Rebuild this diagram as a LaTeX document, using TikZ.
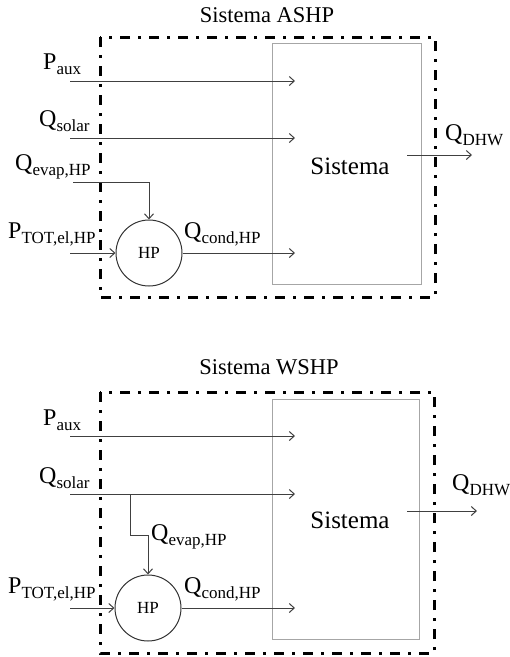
\documentclass[tikz,border=0pt]{standalone}
\usepackage{fontspec}
\setmainfont{Liberation Serif}
\usetikzlibrary{arrows.meta}
\newcommand{\qlab}[2]{{\fontsize{24}{24}\selectfont #1}\raisebox{-5.5pt}{\fontsize{17}{17}\selectfont #2}}
\begin{document}
\begin{tikzpicture}[x=1pt,y=-1pt,
  frame/.style={line width=3pt, dash pattern=on 10pt off 8pt on 3pt off 8pt},
  sysbox/.style={draw=black!35, line width=1.3pt, inner sep=0, anchor=north west},
  flow/.style={draw=black!75, line width=1pt, -{Straight Barb[length=5pt,width=9pt]}},
  link/.style={draw=black!75, line width=1pt},
  lbl/.style={anchor=base west, inner sep=0},
  title/.style={inner sep=0, font=\fontsize{22.5}{22.5}\selectfont},
  systxt/.style={inner sep=0, font=\fontsize{25}{25}\selectfont},
  hp/.style={circle, draw=black!80, line width=1pt, minimum size=66pt, inner sep=0, font=\fontsize{17}{17}\selectfont}]
\useasboundingbox (0,0) rectangle (510,657);

% ---------- ASHP ----------
\node[title] (tA) at (267,15) {Sistema ASHP};
\draw[frame] (100,37) rectangle (435,297);
\node[sysbox, minimum width=149pt, minimum height=241pt] (bA) at (272,43) {};
\node[systxt] (sA) at (350,166) {Sistema};
\node[hp] (hpA) at (149,253) {HP};

\coordinate (pauxA0) at (70,81);  \coordinate (pauxA1) at (295,81);
\coordinate (qsolA0) at (70,138); \coordinate (qsolA1) at (295,138);
\coordinate (qevA0) at (73,182);
\coordinate (ptotA0) at (70,253);
\coordinate (qcoA1) at (295,253);
\coordinate (dhwA0) at (407,155); \coordinate (dhwA1) at (472,155);

\node[lbl] (lpauxA) at (43,69) {\qlab{P}{aux}};
\node[lbl] (lqsolA) at (39,126) {\qlab{Q}{solar}};
\node[lbl] (lqevA) at (15,170) {\qlab{Q}{evap,HP}};
\node[lbl] (lptotA) at (8,238) {\qlab{P}{TOT,el,HP}};
\node[lbl] (lqcoA) at (184,238) {\qlab{Q}{cond,HP}};
\node[lbl] (ldhwA) at (445,140) {\qlab{Q}{DHW}};

\draw[flow] (pauxA0) -- (pauxA1);
\draw[flow] (qsolA0) -- (qsolA1);
\draw[flow] (qevA0) -| (hpA.north);
\draw[flow] (ptotA0) -- (hpA.west);
\draw[flow] (hpA.east) -- (qcoA1);
\draw[flow] (dhwA0) -- (dhwA1);

% ---------- WSHP ----------
\node[title] (tW) at (269,367) {Sistema WSHP};
\draw[frame] (100,392) rectangle (434,653);
\node[sysbox, minimum width=147pt, minimum height=240pt] (bW) at (272,399) {};
\node[systxt] (sW) at (350,520) {Sistema};
\node[hp] (hpW) at (148,608) {HP};

\coordinate (pauxW0) at (70,436);  \coordinate (pauxW1) at (295,436);
\coordinate (qsolW0) at (70,494);  \coordinate (qsolW1) at (295,494);
\coordinate (brW) at (130,494);
\coordinate (stW) at (148,535);
\coordinate (ptotW0) at (70,608);
\coordinate (qcoW1) at (295,608);
\coordinate (dhwW0) at (407,511); \coordinate (dhwW1) at (477,511);

\node[lbl] (lpauxW) at (43,425) {\qlab{P}{aux}};
\node[lbl] (lqsolW) at (39,483) {\qlab{Q}{solar}};
\node[lbl] (lqevW) at (151,540) {\qlab{Q}{evap,HP}};
\node[lbl] (lptotW) at (8,593) {\qlab{P}{TOT,el,HP}};
\node[lbl] (lqcoW) at (184,593) {\qlab{Q}{cond,HP}};
\node[lbl] (ldhwW) at (452,490) {\qlab{Q}{DHW}};

\draw[flow] (pauxW0) -- (pauxW1);
\draw[flow] (qsolW0) -- (qsolW1);
\draw[flow] (brW) |- (stW) -- (hpW.north);
\draw[flow] (ptotW0) -- (hpW.west);
\draw[flow] (hpW.east) -- (qcoW1);
\draw[flow] (dhwW0) -- (dhwW1);
\end{tikzpicture}
\end{document}
